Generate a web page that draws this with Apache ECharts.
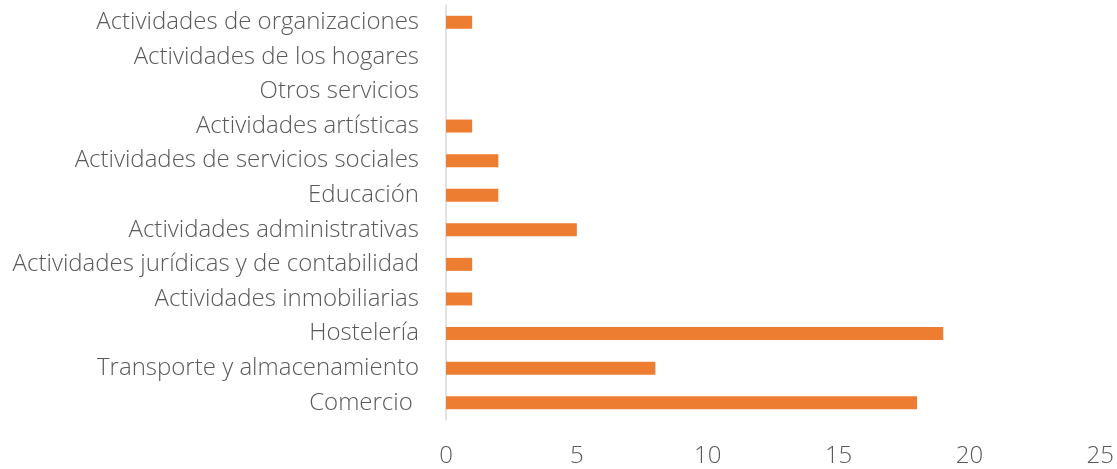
<!DOCTYPE html>
<html>
<head>
<meta charset="utf-8">
<script src="https://cdn.jsdelivr.net/npm/echarts@6/dist/echarts.min.js"></script>
<style>
  html, body { margin: 0; padding: 0; background: #fff; }
  #chart { width: 1117px; height: 469px; }
</style>
</head>
<body>
<div id="chart"></div>
<script>
// categories bottom -> top
const categories = [
  'Comercio ',
  'Transporte y almacenamiento',
  'Hostelería',
  'Actividades inmobiliarias',
  'Actividades jurídicas y de contabilidad',
  'Actividades administrativas',
  'Educación',
  'Actividades de servicios sociales',
  'Actividades artísticas',
  'Otros servicios',
  'Actividades de los hogares',
  'Actividades de organizaciones'
]
const values = [18, 8, 19, 1, 1, 5, 2, 2, 1, 0, 0, 1]
const xTicks = [0, 5, 10, 15, 20, 25]

const chart = echarts.init(document.getElementById('chart'))
const font = { fontFamily: 'Open Sans', fontWeight: 300, color: '#595959', fontSize: 24 }

chart.setOption({
  animation: false,
  grid: { left: 446, right: 16, top: 5, bottom: 49 },
  xAxis: {
    type: 'value',
    min: xTicks[0],
    max: xTicks[xTicks.length - 1],
    interval: xTicks[1] - xTicks[0],
    axisLine: { show: false },
    axisTick: { show: false },
    splitLine: { show: false },
    axisLabel: { ...font, margin: 24 },
  },
  yAxis: {
    type: 'category',
    data: categories,
    axisLine: { show: true, lineStyle: { color: '#d9d9d9', width: 1.5 } },
    axisTick: { show: false },
    axisLabel: { ...font, margin: 27 },
  },
  series: [{
    type: 'bar',
    data: values,
    barWidth: 13,
    itemStyle: { color: '#ed7d31' },
  }],
})
</script>
</body>
</html>
